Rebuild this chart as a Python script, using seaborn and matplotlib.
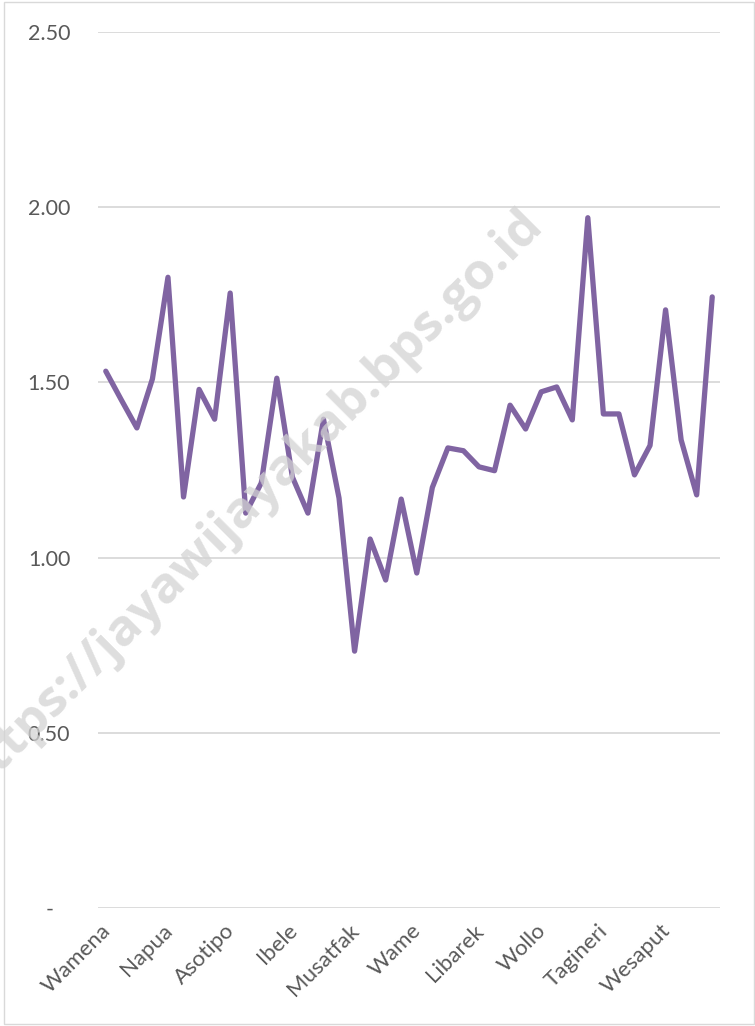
import matplotlib
matplotlib.use("Agg")
import matplotlib.pyplot as plt
import matplotlib.transforms as mtransforms
import seaborn as sns
import pandas as pd
from matplotlib.patches import Rectangle

# ---- data ----
values = [1.532, 1.45, 1.37, 1.51, 1.80, 1.173, 1.48, 1.395, 1.755, 1.127,
          1.213, 1.512, 1.23, 1.127, 1.395, 1.17, 0.733, 1.053, 0.936, 1.167,
          0.956, 1.20, 1.313, 1.305, 1.259, 1.248, 1.435, 1.367, 1.473, 1.487,
          1.393, 1.97, 1.41, 1.41, 1.236, 1.32, 1.707, 1.336, 1.179, 1.744]
label_positions = [0, 4, 8, 12, 16, 20, 24, 28, 32, 36]
x_labels = ["Wamena", "Napua", "Asotipo", "Ibele", "Musatfak",
            "Wame", "Libarek", "Wollo", "Tagineri", "Wesaput"]
y_ticks = [0, 0.5, 1.0, 1.5, 2.0, 2.5]
y_tick_labels = ["-", "0.50", "1.00", "1.50", "2.00", "2.50"]

df = pd.DataFrame({"idx": list(range(len(values))), "value": values})

sns.set_theme(style="white")
plt.rcParams["font.family"] = ["Lato", "DejaVu Sans"]

fig = plt.figure(figsize=(7.55, 10.26), dpi=100)
ax = fig.add_axes([98/755, 1-908/1026, (720-98)/755, (908-32)/1026])

sns.lineplot(data=df, x="idx", y="value", ax=ax, color="#8064A2",
             linewidth=3.8, zorder=3)

ax.set_xlim(-0.5, len(values) - 0.5)
ax.set_ylim(0, 2.5)
ax.set_yticks(y_ticks)
ax.set_yticklabels(y_tick_labels)
ax.set_xticks(label_positions)
ax.set_xticklabels(x_labels, rotation=45, ha="right", rotation_mode="anchor")
ax.yaxis.grid(True, color="#D9D9D9", linewidth=1.3, zorder=0)
ax.xaxis.grid(False)
for s in ax.spines.values():
    s.set_visible(False)
ax.tick_params(axis="y", length=0, pad=20, labelsize=15.5, labelcolor="#595959")
ax.tick_params(axis="x", length=0, pad=9, labelsize=16, labelcolor="#595959")
ax.set_xlabel("")
ax.set_ylabel("")

# shift the zero "-" label left like the accounting format
zl = ax.get_yticklabels()[0]
zl.set_transform(zl.get_transform() +
                 mtransforms.ScaledTranslation(-12/72, 0, fig.dpi_scale_trans))
# nudge rotated x labels so their ends sit by the ticks
for t in ax.get_xticklabels():
    t.set_transform(t.get_transform() +
                    mtransforms.ScaledTranslation(-4/72, 0, fig.dpi_scale_trans))

# watermark
fig.text(250/755, 1-502/1026, "https://jayawijayakab.bps.go.id",
         rotation=45, ha="center", va="center", fontsize=37,
         fontweight="bold", color="#D3D3D3", alpha=0.75, zorder=1,
         family=["Open Sans", "DejaVu Sans"])

# figure border
fig.patches.append(Rectangle((4/755, 0.002), 1-5/755, 1-4/1026,
                             transform=fig.transFigure, fill=False,
                             edgecolor="#D9D9D9", linewidth=1.0))

fig.savefig("out.png", dpi=100, facecolor="white")
